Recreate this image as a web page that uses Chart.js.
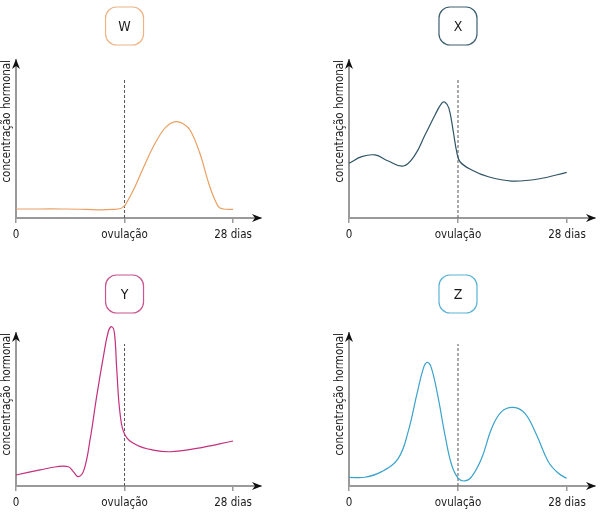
<!DOCTYPE html>
<html>
<head>
<meta charset="utf-8">
<script src="https://cdn.jsdelivr.net/npm/chart.js@4.4.1/dist/chart.umd.min.js"></script>
<style>
  body { margin: 0; background: #fff; }
  #wrap { position: relative; width: 600px; height: 512px; }
  .panel { position: absolute; width: 300px; height: 256px; }
</style>
</head>
<body>
<div id="wrap">
  <div class="panel" style="left:0;top:0"><canvas id="chartW"></canvas></div>
  <div class="panel" style="left:300px;top:0"><canvas id="chartX"></canvas></div>
  <div class="panel" style="left:0;top:256px"><canvas id="chartY"></canvas></div>
  <div class="panel" style="left:300px;top:256px"><canvas id="chartZ"></canvas></div>
</div>
<script>
// eixo x: dias do ciclo
const tickDays = [0, 14, 28];
const tickLabels = ['0', 'ovulação', '28 dias'];
const ovulationDay = 14;
const yTitle = 'concentração hormonal';

// hormonio W
const wDays   = [0, 3, 6, 9, 11, 12.5, 13.5, 13.85, 14.1, 15.35, 16.4, 17.7, 19.0, 19.9, 20.7, 21.5, 22.45, 23.7, 25.0, 26.1, 26.75, 28];
const wValues = [5.7, 5.7, 5.7, 5.5, 5.1, 5.4, 6.0, 7.2, 8.2, 19.8, 31.5, 45.1, 55.7, 59.8, 61.0, 59.8, 55.7, 41.1, 19.8, 7.2, 5.7, 5.4];

// hormonio X
const xDays   = [0, 1.63, 3.34, 5.05, 6.98, 8.48, 9.76, 11.05, 11.9, 12.33, 12.84, 13.4, 13.83, 14.26, 15.76, 17.9, 20.9, 24.3, 27.96];
const xValues = [34.6, 38.8, 39.9, 36.1, 32.9, 39.9, 52.5, 65.2, 72.6, 73.2, 69.4, 54.6, 42.0, 35.6, 30.4, 26.1, 23.4, 24.7, 28.9];

// hormonio Y
const yDays   = [0, 3.1, 5.25, 6.75, 7.4, 8.04, 8.77, 9.55, 10.4, 11.27, 11.9, 12.35, 12.7, 13.0, 13.42, 14.06, 15.57, 17.7, 19.9, 23.3, 28];
const yValues = [7.2, 10.5, 12.6, 12.6, 9.4, 6.1, 10.5, 30.1, 58.4, 84.5, 100.8, 104.1, 99.8, 75.8, 47.5, 33.3, 26.8, 23.5, 22.4, 24.6, 29.4];

// hormonio Z
const zDays   = [0, 2.05, 4.2, 6.33, 7.6, 8.7, 9.55, 10.06, 10.6, 11.47, 12.33, 13.19, 14.04, 14.9, 15.76, 17.04, 18.33, 19.6, 21.1, 22.6, 24.1, 25.6, 26.9, 27.96];
const zValues = [5.7, 5.7, 9.4, 18.1, 35.5, 59.5, 76.9, 80.8, 76.9, 57.3, 33.3, 13.7, 5.0, 3.3, 6.1, 18.1, 37.7, 48.6, 51.4, 47.5, 33.3, 15.9, 8.3, 5.0];

// topo da linha tracejada (mesma escala)
const dashTopTop = 88.6;
const dashTopBottom = 92.8;

const axisGrey = '#9a9a9a';
const fontFam = '"DejaVu Sans Condensed", "DejaVu Sans", sans-serif';

function pts(days, vals) {
    return days.map((d, i) => ({ x: d, y: vals[i] }));
}

// setas dos eixos + caixa com a letra
const decor = {
    id: 'decor',
    afterDraw(chart, args, opts) {
        const c = chart.ctx;
        const a = chart.chartArea;
        c.save();
        c.fillStyle = '#111';
        // seta eixo x
        let x = a.right, y = a.bottom;
        c.beginPath();
        c.moveTo(x + 1, y);
        c.lineTo(x - 9, y - 4);
        c.lineTo(x - 6, y);
        c.lineTo(x - 9, y + 4);
        c.closePath();
        c.fill();
        // seta eixo y
        x = a.left; y = a.top;
        c.beginPath();
        c.moveTo(x, y - 1);
        c.lineTo(x - 4, y + 9);
        c.lineTo(x, y + 6);
        c.lineTo(x + 4, y + 9);
        c.closePath();
        c.fill();
        // caixa da letra
        const cx = chart.scales.x.getPixelForValue(ovulationDay);
        const cy = opts.boxY;
        const w = 38, h = 38, r = 11;
        c.strokeStyle = opts.boxColor;
        c.lineWidth = 1.2;
        c.beginPath();
        c.roundRect(cx - w / 2, cy - h / 2, w, h, r);
        c.stroke();
        c.fillStyle = '#1a1a1a';
        c.font = '14px ' + fontFam;
        c.textAlign = 'center';
        c.textBaseline = 'middle';
        c.fillText(opts.letter, cx, cy + 1);
        c.restore();
    }
};

function makeChart(id, letter, color, boxColor, days, vals, side, row) {
    const top = row === 0 ? 60 : 77;
    const axisY = row === 0 ? 218 : 230;
    const boxY = row === 0 ? 26 : 38;
    const dashTop = row === 0 ? dashTopTop : dashTopBottom;
    const left = side === 0 ? 0 : 33;
    const right = side === 0 ? 39 : 5;

    return new Chart(document.getElementById(id), {
        type: 'line',
        data: {
            datasets: [{
                data: pts(days, vals),
                borderColor: color,
                borderWidth: 1.2,
                pointRadius: 0,
                tension: 0.4,
                clip: false
            }, {
                data: [{ x: ovulationDay, y: 0 }, { x: ovulationDay, y: dashTop }],
                borderColor: '#555',
                borderWidth: 1,
                borderDash: [3, 2],
                pointRadius: 0
            }]
        },
        options: {
            responsive: true,
            maintainAspectRatio: false,
            animation: false,
            layout: { padding: { top: top, right: right, left: left, bottom: 0 } },
            plugins: {
                legend: { display: false },
                tooltip: { enabled: false },
                decor: { letter: letter, boxColor: boxColor, boxY: boxY }
            },
            scales: {
                x: {
                    type: 'linear',
                    min: 0,
                    max: 31.6,
                    afterBuildTicks: s => { s.ticks = tickDays.map(v => ({ value: v })); },
                    afterFit: s => { s.height = 256 - axisY; },
                    grid: { drawOnChartArea: false, drawTicks: true, tickLength: 5, color: axisGrey, lineWidth: 1.5 },
                    border: { color: axisGrey, width: 2 },
                    ticks: {
                        autoSkip: false,
                        maxRotation: 0,
                        padding: 5,
                        color: '#1a1a1a',
                        font: { size: 11.5, family: fontFam },
                        callback: v => tickLabels[tickDays.indexOf(v)]
                    }
                },
                y: {
                    min: 0,
                    max: 100,
                    afterFit: s => { s.width = 16; },
                    grid: { display: false },
                    border: { color: axisGrey, width: 2 },
                    ticks: { display: false },
                    title: {
                        display: true,
                        text: yTitle,
                        align: 'end',
                        padding: 0,
                        color: '#1a1a1a',
                        font: { size: 11.5, family: fontFam }
                    }
                }
            }
        },
        plugins: [decor]
    });
}

makeChart('chartW', 'W', '#e9a063', '#eeb487', wDays, wValues, 0, 0);
makeChart('chartX', 'X', '#2f5466', '#3d5f70', xDays, xValues, 1, 0);
makeChart('chartY', 'Y', '#c4307e', '#c9548f', yDays, yValues, 0, 1);
makeChart('chartZ', 'Z', '#3aa3cc', '#5ab3d6', zDays, zValues, 1, 1);
</script>
</body>
</html>
